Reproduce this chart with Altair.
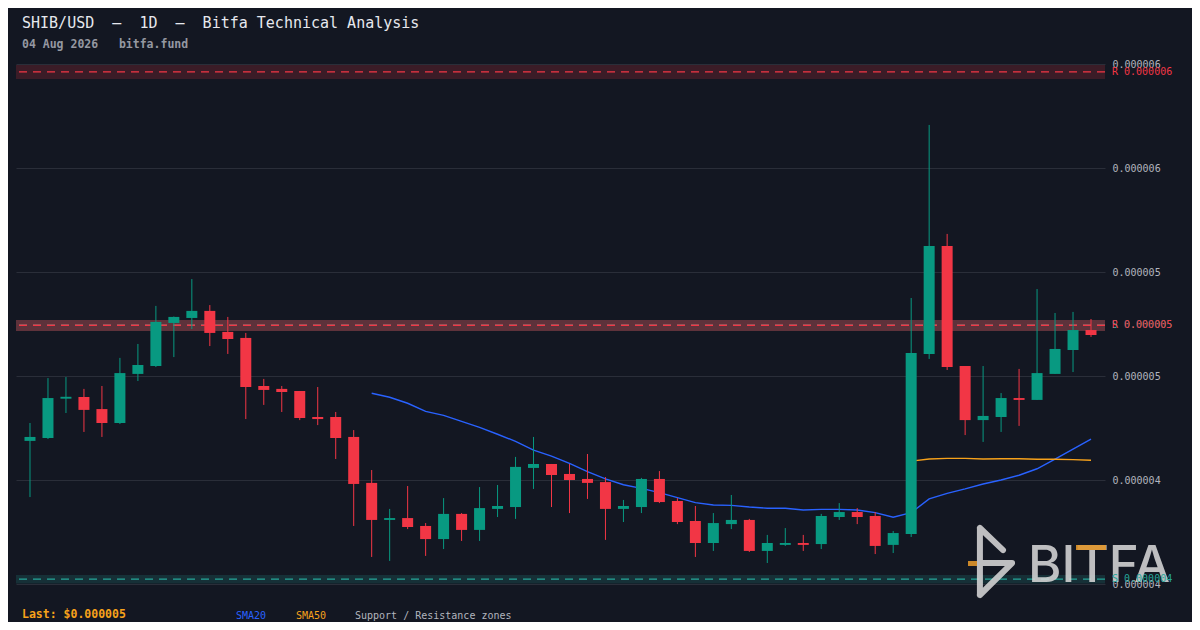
import altair as alt
import pandas as pd

SCALE = 1e-6  # values below are in millionths of a USD

# ---- OHLC (60 daily candles, last = 04 Aug 2026) ----
opens = [4.188, 4.202, 4.391, 4.399, 4.341, 4.274, 4.510, 4.548, 4.755, 4.779,
         4.813, 4.712, 4.683, 4.452, 4.438, 4.428, 4.303, 4.303, 4.207, 3.986,
         3.808, 3.817, 3.779, 3.716, 3.837, 3.760, 3.861, 3.870, 4.058, 4.077,
         4.029, 4.005, 3.990, 3.861, 3.870, 4.005, 3.899, 3.803, 3.697, 3.788,
         3.808, 3.659, 3.688, 3.697, 3.692, 3.822, 3.846, 3.827, 3.688, 3.740,
         4.606, 5.125, 4.548, 4.288, 4.303, 4.394, 4.385, 4.510, 4.625, 4.721]
closes = [4.207, 4.394, 4.400, 4.337, 4.274, 4.514, 4.553, 4.760, 4.784, 4.813,
          4.707, 4.678, 4.447, 4.433, 4.423, 4.298, 4.293, 4.202, 3.981, 3.808,
          3.817, 3.774, 3.716, 3.837, 3.760, 3.865, 3.875, 4.063, 4.077, 4.024,
          4.000, 3.986, 3.861, 3.875, 4.005, 3.894, 3.798, 3.697, 3.793, 3.808,
          3.659, 3.697, 3.697, 3.688, 3.827, 3.846, 3.822, 3.683, 3.745, 4.611,
          5.125, 4.543, 4.288, 4.308, 4.394, 4.385, 4.514, 4.630, 4.721, 4.697]
highs = [4.274, 4.490, 4.495, 4.438, 4.452, 4.587, 4.654, 4.837, 4.786, 4.966,
         4.841, 4.784, 4.707, 4.486, 4.452, 4.428, 4.447, 4.327, 4.240, 4.048,
         3.861, 3.971, 3.793, 3.913, 3.841, 3.966, 3.976, 4.111, 4.207, 4.077,
         4.077, 4.125, 4.014, 3.904, 4.010, 4.043, 3.913, 3.875, 3.841, 3.928,
         3.813, 3.736, 3.769, 3.736, 3.837, 3.889, 3.865, 3.846, 3.755, 4.875,
         5.707, 5.183, 4.548, 4.548, 4.418, 4.534, 4.918, 4.803, 4.808, 4.774]
lows = [3.918, 4.197, 4.322, 4.231, 4.207, 4.269, 4.476, 4.543, 4.591, 4.726,
        4.644, 4.606, 4.293, 4.361, 4.327, 4.288, 4.264, 4.101, 3.779, 3.630,
        3.611, 3.764, 3.635, 3.668, 3.707, 3.707, 3.822, 3.813, 3.957, 3.870,
        3.841, 3.909, 3.712, 3.798, 3.841, 3.889, 3.788, 3.630, 3.659, 3.764,
        3.654, 3.601, 3.683, 3.659, 3.668, 3.808, 3.788, 3.644, 3.649, 3.726,
        4.582, 4.529, 4.216, 4.183, 4.231, 4.260, 4.385, 4.510, 4.519, 4.688]

# ---- moving averages as drawn (SMA20 from candle 19, SMA50 from candle 49) ----
sma20_start = 19
sma20 = [4.417, 4.398, 4.369, 4.330, 4.311, 4.282, 4.253, 4.220, 4.186, 4.144,
         4.115, 4.080, 4.040, 4.005, 3.977, 3.960, 3.939, 3.915, 3.891, 3.880,
         3.878, 3.870, 3.864, 3.864, 3.856, 3.859, 3.859, 3.856, 3.843, 3.821,
         3.843, 3.909, 3.936, 3.957, 3.981, 4.000, 4.023, 4.054, 4.100, 4.148,
         4.196]
sma50_start = 49
sma50 = [4.091, 4.101, 4.104, 4.104, 4.101, 4.102, 4.102, 4.100, 4.100, 4.098, 4.095]

# ---- support / resistance zones ----
zone_kind = ["S", "S", "R", "R"]
zone_level = [3.523, 4.744, 4.744, 5.962]
zone_low = [3.503, 4.716, 4.716, 5.928]
zone_high = [3.543, 4.769, 4.769, 5.995]
zone_touches = [1, 1, 3, 1]

# ---- axis ticks ----
y_ticks = [3.5, 4.0, 4.5, 5.0, 5.5, 6.0]
y_domain = [3.5, 6.0]

# ---- texts (non-breaking spaces keep the wide gaps) ----
NB = "\u00a0"
title_text = f"SHIB/USD{NB}{NB}–{NB}{NB}1D{NB}{NB}–{NB}{NB}Bitfa Technical Analysis"
subtitle_text = f"04 Aug 2026{NB}{NB}{NB}bitfa.fund"
last_text = "Last: $0.000005"
legend_items = ["SMA20", "SMA50", "Support / Resistance zones"]
watermark_text = "BITFA"

# ------------------------------------------------------------------
n = len(opens)
candles = pd.DataFrame({
    "i": list(range(n)),
    "date": pd.date_range("2026-06-06", periods=n).strftime("%Y-%m-%d"),
    "open": [v * SCALE for v in opens],
    "close": [v * SCALE for v in closes],
    "high": [v * SCALE for v in highs],
    "low": [v * SCALE for v in lows],
    "dir": ["up" if c >= o else "down" for o, c in zip(opens, closes)],
})

sma_rows = []
for k, v in enumerate(sma20):
    sma_rows.append({"i": sma20_start + k, "value": v * SCALE, "series": "SMA20"})
for k, v in enumerate(sma50):
    sma_rows.append({"i": sma50_start + k, "value": v * SCALE, "series": "SMA50"})
sma_df = pd.DataFrame(sma_rows)

zones = pd.DataFrame({
    "kind": zone_kind,
    "level": [v * SCALE for v in zone_level],
    "lo": [v * SCALE for v in zone_low],
    "hi": [v * SCALE for v in zone_high],
    "touches": zone_touches,
})
zones["label"] = [f"{k} {v * SCALE:.6f}" for k, v in zip(zone_kind, zone_level)]

W, H = 1089, 520
MONO = "DejaVu Sans Mono"
BG = "#131722"

ysc = alt.Scale(domain=[v * SCALE for v in y_domain], nice=False, zero=False)
xsc = alt.Scale(domain=[-0.5, n - 0.5], nice=False, zero=False)
csc = alt.Scale(domain=["up", "down", "S", "R", "SMA20", "SMA50"],
                range=["#089981", "#f23645", "#26a69a", "#f23645", "#2962ff", "#f7a21b"])
yaxis = alt.Axis(orient="right", values=[v * SCALE for v in y_ticks],
                 labelExpr="format(round(datum.value*1000000 + 0.001)/1000000, '.6f')",
                 grid=True, ticks=False, domain=False, labelPadding=7, title=None)


def Y(field):
    return alt.Y(field, scale=ysc, axis=yaxis)


band = alt.Chart(zones).mark_rect().encode(
    y=Y("lo:Q"),
    y2="hi:Q",
    color=alt.Color("kind:N", scale=csc, legend=None),
    opacity=alt.Opacity("touches:Q", scale=alt.Scale(domain=[1, 3], range=[0.18, 0.33]), legend=None),
)
zone_line = alt.Chart(zones).mark_rule(strokeDash=[8, 6], strokeWidth=1.3).encode(
    y=Y("level:Q"),
    color=alt.Color("kind:N", scale=csc, legend=None),
)
sma = alt.Chart(sma_df).mark_line(strokeWidth=1.4).encode(
    x=alt.X("i:Q", scale=xsc, axis=None),
    y=Y("value:Q"),
    color=alt.Color("series:N", scale=csc, legend=None),
    detail="series:N",
)
wick = alt.Chart(candles).mark_rule(strokeWidth=1).encode(
    x=alt.X("i:Q", scale=xsc, axis=None),
    y=Y("low:Q"),
    y2="high:Q",
    color=alt.Color("dir:N", scale=csc, legend=None),
)
body = alt.Chart(candles).mark_bar(size=11).encode(
    x=alt.X("i:Q", scale=xsc, axis=None),
    y=Y("open:Q"),
    y2="close:Q",
    color=alt.Color("dir:N", scale=csc, legend=None),
)
zone_text = alt.Chart(zones).mark_text(align="left", baseline="middle", font=MONO, fontSize=10).encode(
    x=alt.value(W + 7),
    y=Y("level:Q"),
    text="label:N",
    color=alt.Color("kind:N", scale=csc, legend=None),
)


def label(txt, x, y, size, color, weight="normal", font=MONO, opacity=1.0):
    return alt.Chart(pd.DataFrame({"t": [txt]})).mark_text(
        align="left", baseline="middle", font=font, fontSize=size,
        fontWeight=weight, color=color, opacity=opacity,
    ).encode(text="t:N", x=alt.value(x), y=alt.value(y))


title = label(title_text, 6, -41, 15, "#e6e8ee")
subtitle = label(subtitle_text, 6, -19, 11.5, "#9598a1", "bold")
last = label(last_text, 6, 550.5, 11.5, "#f7a21b", "bold")
leg1 = label(legend_items[0], 220, 552, 10, "#2962ff")
leg2 = label(legend_items[1], 280, 552, 10, "#f7a21b")
leg3 = label(legend_items[2], 339, 552, 10, "#b2b5be")

# watermark
wm_text = alt.Chart(pd.DataFrame({"t": [watermark_text]})).mark_text(
    align="left", baseline="alphabetic", font="Inter", fontSize=51, fontWeight=500,
    color="#d6d6d6", opacity=0.88,
).encode(text="t:N", x=alt.value(1012), y=alt.value(518))
logo_path = "M-0.48,-1L-0.48,1M-0.48,-1L0.21,-0.34M-0.48,0.045L0.48,0.045L-0.48,1"
wm_logo = alt.Chart(pd.DataFrame({"k": [1]})).mark_point(
    shape=logo_path, size=4489, filled=False, stroke="#d6d6d6", strokeWidth=6,
    strokeCap="round", strokeJoin="round", opacity=0.88,
).encode(x=alt.value(980), y=alt.value(497.5))
wm_bar1 = alt.Chart(pd.DataFrame({"k": [1]})).mark_rect(color="#e0952a", opacity=0.9).encode(
    x=alt.value(1060), x2=alt.value(1090), y=alt.value(481), y2=alt.value(486))
wm_bar2 = alt.Chart(pd.DataFrame({"k": [1]})).mark_rect(color="#e0952a", opacity=0.9).encode(
    x=alt.value(952), x2=alt.value(961), y=alt.value(497), y2=alt.value(502))

chart = alt.layer(
    band, zone_line, sma, wick, body,
    wm_logo, wm_text, wm_bar1, wm_bar2,
    zone_text, title, subtitle, last, leg1, leg2, leg3,
).properties(
    width=W, height=H, background=BG,
    padding={"left": 8, "top": 56, "right": 87, "bottom": 38},
    autosize=alt.AutoSizeParams(type="none"),
).configure_view(strokeWidth=0).configure_axis(
    labelFont=MONO, labelFontSize=10, labelColor="#b2b5be",
    gridColor="#2a2e39", gridOpacity=1, gridWidth=1,
)

chart.save("out.html", embed_options={"renderer": "svg", "actions": False})
